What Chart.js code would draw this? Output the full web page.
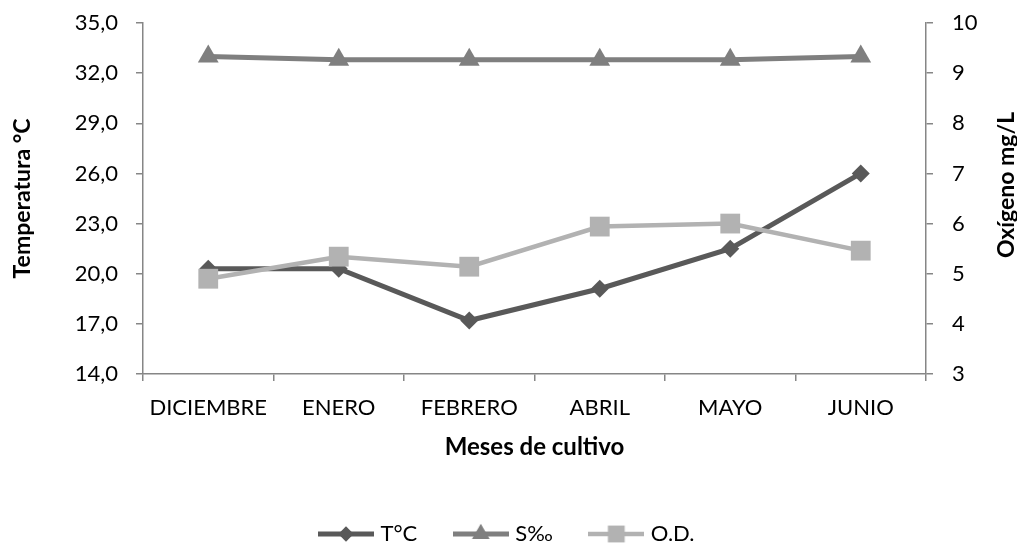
<!DOCTYPE html>
<html>
<head>
<meta charset="utf-8">
<script src="https://cdn.jsdelivr.net/npm/chart.js@4/dist/chart.umd.min.js"></script>
<style>
  html, body { margin: 0; padding: 0; background: #fff; }
  #wrap { width: 1017px; height: 544px; position: relative; }
</style>
</head>
<body>
<div id="wrap"><canvas id="chart" width="1017" height="544"></canvas></div>
<script>
// ── Data ──────────────────────────────────────────────────────
const meses       = ['DICIEMBRE', 'ENERO', 'FEBRERO', 'ABRIL', 'MAYO', 'JUNIO'];
const temperatura = [20.3, 20.3, 17.2, 19.1, 21.5, 26.0];   // °C, eje izquierdo
const salinidad   = [33.0, 32.8, 32.8, 32.8, 32.8, 33.0];   // ‰, eje izquierdo
const oxigeno     = [4.9, 5.34, 5.14, 5.94, 6.0, 5.46];     // mg/L, eje derecho

const tempTicks = { min: 14, max: 35, step: 3 };
const oxTicks   = { min: 3, max: 10, step: 1 };

// ── Styles ────────────────────────────────────────────────────
const FONT = 'Lato';
const axisColor = '#868686';
const series = [
  { label: 'T°C',  color: '#595959', style: 'rectRot',  radius: 9,  width: 5 },
  { label: 'S‰',   color: '#7f7f7f', style: 'triangle', radius: 12, width: 5 },
  { label: 'O.D.', color: '#b2b2b2', style: 'rect',     radius: 14, width: 4.5 }
];

function legendIcon(s) {
  const c = document.createElement('canvas');
  c.width = 56; c.height = 26;
  const ctx = c.getContext('2d');
  ctx.strokeStyle = s.color;
  ctx.lineWidth = s.width;
  ctx.beginPath();
  ctx.moveTo(0, 13); ctx.lineTo(56, 13);
  ctx.stroke();
  ctx.fillStyle = s.color;
  Chart.helpers.drawPoint(ctx, { pointStyle: s.style, radius: s.radius * 0.85, rotation: 0, borderWidth: 0 }, 28, 13);
  return c;
}

// right axis title reads bottom-to-top like the left one
const rightTitle = {
  id: 'rightTitle',
  afterDraw(chart) {
    const ctx = chart.ctx;
    ctx.save();
    ctx.translate(1007, 185);
    ctx.rotate(-Math.PI / 2);
    ctx.font = `bold 23px ${FONT}`;
    ctx.fillStyle = '#000';
    ctx.textAlign = 'center';
    ctx.textBaseline = 'middle';
    ctx.fillText('Oxígeno mg/L', 0, 0);
    ctx.restore();
  }
};

function fixVertical(width) {
  return s => {
    s.width = width;
    s.paddingTop = 0;
    s.paddingBottom = 0;
  };
}

function buildChart() {
  const icons = series.map(legendIcon);
  const dataSets = [temperatura, salinidad, oxigeno];

  new Chart(document.getElementById('chart'), {
    type: 'line',
    data: {
      labels: meses,
      datasets: series.map((s, i) => ({
        label: s.label,
        data: dataSets[i],
        yAxisID: i === 2 ? 'y1' : 'y',
        borderColor: s.color,
        backgroundColor: s.color,
        borderWidth: s.width,
        pointStyle: s.style,
        pointRadius: s.radius,
        pointHoverRadius: s.radius,
        pointBorderWidth: 0,
        pointBackgroundColor: s.color,
        tension: 0,
        clip: false,
        order: 3 - i
      }))
    },
    options: {
      responsive: false,
      animation: false,
      layout: { padding: { top: 23, left: 0, right: 0, bottom: -11 } },
      plugins: {
        tooltip: { enabled: false },
        legend: {
          position: 'bottom',
          labels: {
            usePointStyle: true,
            pointStyleWidth: 47,
            padding: 40,
            color: '#000',
            font: { family: FONT, size: 22 },
            sort: (a, b) => a.datasetIndex - b.datasetIndex,
            generateLabels: chart => {
              const items = Chart.defaults.plugins.legend.labels.generateLabels(chart);
              items.forEach(it => { it.pointStyle = icons[it.datasetIndex]; });
              return items;
            }
          }
        }
      },
      scales: {
        x: {
          offset: true,
          grid: { offset: true, drawOnChartArea: false, drawTicks: true, tickLength: 7, color: axisColor, lineWidth: 1.5 },
          border: { display: true, color: axisColor, width: 1.5 },
          ticks: { color: '#000', padding: 14, font: { family: FONT, size: 22 }, maxRotation: 0, autoSkip: false },
          title: { display: true, text: 'Meses de cultivo', color: '#000', font: { family: FONT, size: 24, weight: 'bold' }, padding: { top: 0, bottom: 21 } },
          afterFit: s => { s.height = 109; }
        },
        y: {
          position: 'left',
          min: tempTicks.min,
          max: tempTicks.max,
          grid: { drawOnChartArea: false, drawTicks: true, tickLength: 7, color: axisColor, lineWidth: 1.5 },
          border: { display: true, color: axisColor, width: 1.5 },
          ticks: {
            stepSize: tempTicks.step,
            color: '#000',
            padding: 18,
            font: { family: FONT, size: 22 },
            callback: v => v.toFixed(1).replace('.', ',')
          },
          title: { display: true, text: 'Temperatura °C', color: '#000', font: { family: FONT, size: 23, weight: 'bold' }, padding: { top: 9, bottom: 0 } },
          afterFit: fixVertical(143)
        },
        y1: {
          position: 'right',
          min: oxTicks.min,
          max: oxTicks.max,
          grid: { drawOnChartArea: false, drawTicks: true, tickLength: 7, color: axisColor, lineWidth: 1.5 },
          border: { display: true, color: axisColor, width: 1.5 },
          ticks: { stepSize: oxTicks.step, color: '#000', padding: 19, font: { family: FONT, size: 22 } },
          afterFit: fixVertical(91)
        }
      }
    },
    plugins: [rightTitle]
  });
}

Promise.all([
  document.fonts.load(`22px ${FONT}`),
  document.fonts.load(`bold 23px ${FONT}`)
]).then(buildChart, buildChart);
</script>
</body>
</html>
